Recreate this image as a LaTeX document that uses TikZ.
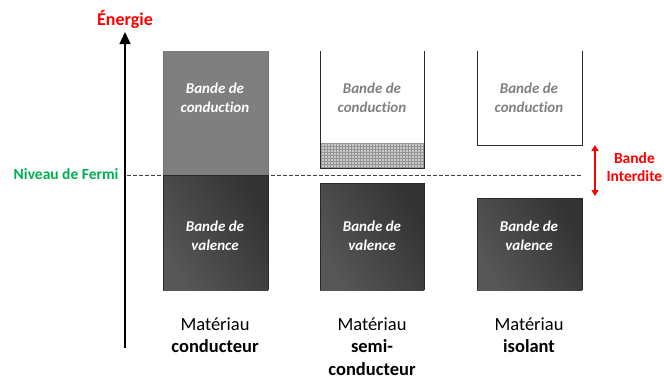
\documentclass[tikz,border=0pt]{standalone}
\usepackage{fontspec}
\setmainfont[Ligatures=NoCommon]{Carlito}
\usetikzlibrary{arrows.meta,patterns,positioning}
\definecolor{fermigreen}{HTML}{00B050}
\definecolor{engred}{HTML}{FF0000}
\definecolor{condgray}{HTML}{7F7F7F}
\definecolor{edgegray}{HTML}{2A2A2A}
\definecolor{txtgray}{HTML}{808080}
\tikzset{
  band/.style={anchor=north west, inner sep=0pt, outer sep=0pt},
  valband/.style={band, left color=black!66, right color=black!80, shading angle=120},
  intext/.style={font=\fontsize{15}{19}\selectfont\bfseries\itshape, align=center},
  whitetext/.style={intext, text=white},
  graytext/.style={intext, text=txtgray},
  matlabel/.style={font=\fontsize{18.5}{22.5}\selectfont, align=center, anchor=north},
  edge/.style={draw=edgegray, line width=0.9pt},
}
\begin{document}
\begin{tikzpicture}[x=1pt,y=-1pt]
\useasboundingbox (0,0) rectangle (664,380);
% axis
\coordinate (axbot) at (125,348);
\coordinate (axtop) at (125,32);
\draw[line width=1.3pt, -{Triangle[width=11pt,length=12pt]}] (axbot) -- (axtop);
\node[font=\fontsize{18}{20}\selectfont\bfseries, text=engred] (energie) at (125,19) {Énergie};
% Fermi level
\node[font=\fontsize{15.5}{16}\selectfont\bfseries, text=fermigreen, anchor=east] (fermi) at (122,174) {Niveau de Fermi};
\coordinate (fermiA) at (127,175);
\coordinate (fermiB) at (581,175);
\draw[dashed, dash pattern=on 3.5pt off 2.5pt, black!75, line width=0.8pt] (fermiA) -- (fermiB);
% --- conductor
\node[band, fill=condgray, minimum width=105pt, minimum height=124pt] (c1) at (163,51) {};
\node[valband, minimum width=105pt, minimum height=115pt] (v1) at (163,175) {};
\draw[draw=black!55, line width=0.8pt] (c1.south west) -- (c1.north west) (c1.north east) -- (c1.south east);
\draw[edge] (v1.south west) -- (v1.north west) -- (v1.north east) -- (v1.south east);
% --- semi-conductor
\node[band, minimum width=104pt, minimum height=117pt] (c2) at (320,51) {};
\node[band, fill=black!40, pattern=grid, pattern color=black!45, minimum width=104pt, minimum height=25pt] (h2) at (320,143) {};
\fill[black!38, fill opacity=0.55] (h2.north west) rectangle (h2.south east);
\draw[edge] (c2.north west) -- (c2.south west) -- (c2.south east) -- (c2.north east);
\node[valband, minimum width=104pt, minimum height=107pt] (v2) at (320,183) {};
\draw[edge] (v2.south west) -- (v2.north west) -- (v2.north east) -- (v2.south east);
% --- insulator
\node[band, minimum width=105pt, minimum height=94pt] (c3) at (477,51) {};
\draw[edge] (c3.north west) -- (c3.south west) -- (c3.south east) -- (c3.north east);
\node[valband, minimum width=105pt, minimum height=92pt] (v3) at (477,198) {};
\draw[edge] (v3.south west) -- (v3.north west) -- (v3.north east) -- (v3.south east);
% band texts
\node[whitetext] (t1c) at (215,97.5) {Bande de\\conduction};
\node[graytext] (t2c) at (372,98) {Bande de\\conduction};
\node[graytext] (t3c) at (529,98) {Bande de\\conduction};
\node[whitetext] (t1v) at (215,236) {Bande de\\valence};
\node[whitetext] (t2v) at (372,236) {Bande de\\valence};
\node[whitetext] (t3v) at (529,236) {Bande de\\valence};
% band gap arrow
\coordinate (gapT) at (595,145);
\coordinate (gapB) at (595,196);
\draw[engred, line width=1.2pt, {Triangle[width=7pt,length=6pt]}-{Triangle[width=7pt,length=6pt]}] (gapT) -- (gapB);
\node[font=\fontsize{15.5}{18}\selectfont\bfseries, text=engred, align=center, anchor=west] (gap) at (603,167) {Bande\\Interdite};
% material labels
\node[matlabel] (m1) at (215,314) {Matériau\\\textbf{conducteur}};
\node[matlabel] (m2) at (372,314) {Matériau\\\textbf{semi-}\\\textbf{conducteur}};
\node[matlabel] (m3) at (529,314) {Matériau\\\textbf{isolant}};
\end{tikzpicture}
\end{document}
